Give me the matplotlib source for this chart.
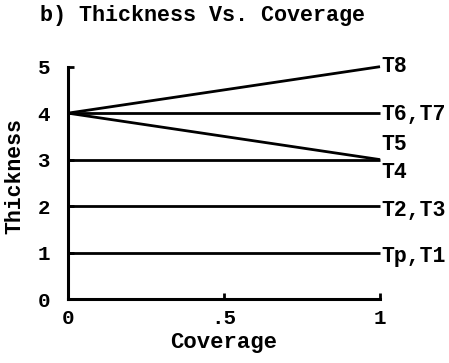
import numpy as np
import matplotlib
matplotlib.use('Agg')
import matplotlib.pyplot as plt

plt.rcParams['font.family'] = ['Liberation Mono', 'DejaVu Sans Mono']
plt.rcParams['font.weight'] = 'bold'

# thickness at zero and full coverage for each case
coverage = [0, 1]
caseNames = ['Tp,T1', 'T2,T3', 'T4', 'T5', 'T6,T7', 'T8']
thickStart = [1, 2, 3, 4, 4, 4]
thickEnd = [1, 2, 3, 3, 4, 5]

xTicks = [0, 0.5, 1]
xTickLabels = ['0', '.5', '1']
yTicks = [0, 1, 2, 3, 4, 5]

fig = plt.figure(figsize=(4.49, 3.63), dpi=100)
ax = fig.add_axes([0.1514, 0.1763, 0.6950, 0.6400])

for name, t0, t1 in zip(caseNames, thickStart, thickEnd):
    ax.plot(coverage, [t0, t1], color='black', lw=2.0, solid_capstyle='butt', clip_on=False)

# labels at the right-hand end of each line
labelOffsets = {'T4': -9, 'T5': 11, 'T8': 0, 'T6,T7': -1}
for name, t1 in zip(caseNames, thickEnd):
    dy = labelOffsets.get(name, -3)
    ax.annotate(name, xy=(1, t1), xytext=(1, dy), textcoords='offset points',
                ha='left', va='center', fontsize=15.5, fontweight='bold')

ax.set_xlim(0, 1)
ax.set_ylim(0, 5)
ax.set_xticks(xTicks)
ax.set_xticklabels(xTickLabels)
ax.set_yticks(yTicks)
ax.tick_params(direction='in', length=4, width=2, labelsize=15, pad=7)
ax.tick_params(axis='y', pad=13)

for side in ['top', 'right']:
    ax.spines[side].set_visible(False)
for side in ['left', 'bottom']:
    ax.spines[side].set_linewidth(2.2)

ax.set_xlabel('Coverage', fontsize=16, fontweight='bold', labelpad=3)
ax.set_ylabel('Thickness', fontsize=15.5, fontweight='bold')
ax.yaxis.set_label_coords(-0.135, 0.53)

fig.text(0.089, 0.958, 'b) Thickness Vs. Coverage', ha='left', va='center',
         fontsize=15.7, fontweight='bold')

plt.savefig('out.png', dpi=100)
